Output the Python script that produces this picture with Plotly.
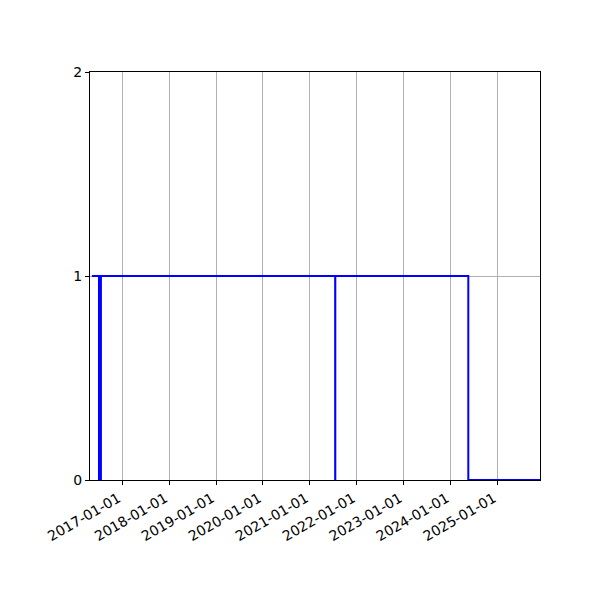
import plotly.graph_objects as go

# status over time, drawn as a step line
dates = ["2016-05-10", "2016-07-04", "2016-07-19", "2021-07-16", "2021-07-17",
         "2024-05-17", "2025-11-26"]
status = [1, 0, 1, 0, 1, 0, 0]

x_range = ["2016-04-25", "2025-11-26"]
tick_dates = ["%d-01-01" % y for y in range(2017, 2026)]
y_ticks = [0, 1, 2]

fig = go.Figure()
fig.add_trace(go.Scatter(
    x=dates, y=status,
    mode="lines",
    line=dict(color="#0000ff", width=2, shape="hv"),
    showlegend=False,
))

axis_style = dict(
    showline=True, linecolor="black", linewidth=1, mirror=True,
    ticks="outside", ticklen=4, tickcolor="black",
    showgrid=True, gridcolor="#b0b0b0", gridwidth=1,
    zeroline=False,
)

# page body has an 8px margin, so shift the plot area back by that much
fig.update_layout(
    width=600, height=600,
    margin=dict(l=82, r=68, t=64, b=128),
    plot_bgcolor="white", paper_bgcolor="white",
    font=dict(family="DejaVu Sans", size=14, color="black"),
    xaxis=dict(
        type="date", range=x_range,
        tickvals=tick_dates, ticktext=tick_dates,
        tickangle=-30, ticklabelshift=-4, **axis_style,
    ),
    yaxis=dict(range=[0, 2], tickvals=y_ticks, **axis_style),
)

fig.write_html("out.html")
